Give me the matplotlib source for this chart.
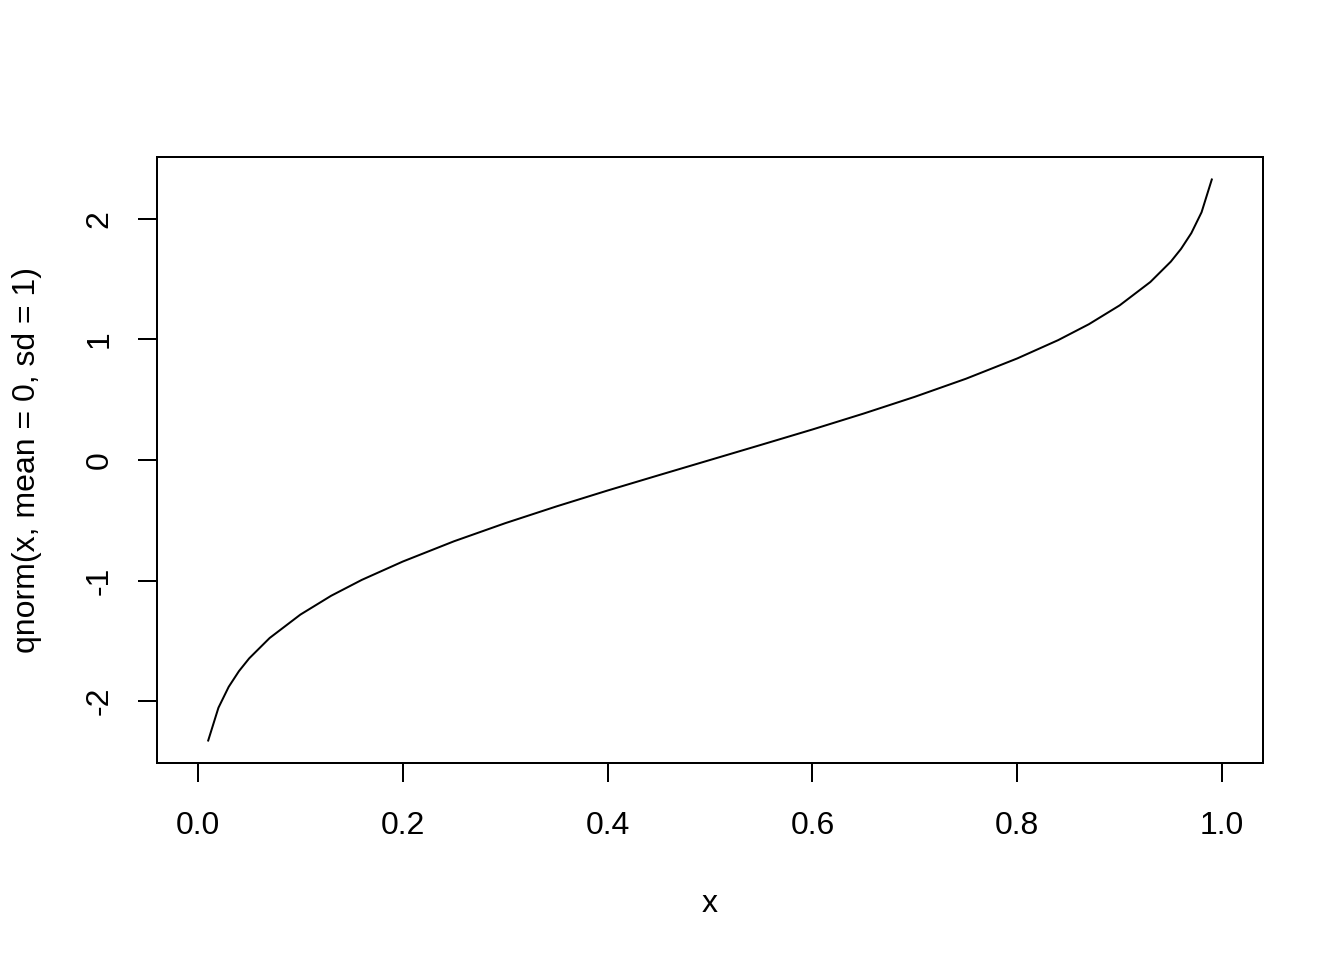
import matplotlib
matplotlib.use("Agg")
import matplotlib.pyplot as plt

x = [0.01, 0.02, 0.03, 0.04, 0.05, 0.07, 0.10, 0.13, 0.16, 0.20, 0.25, 0.30,
     0.35, 0.40, 0.45, 0.50, 0.55, 0.60, 0.65, 0.70, 0.75, 0.80, 0.84, 0.87,
     0.90, 0.93, 0.95, 0.96, 0.97, 0.98, 0.99]
y = [-2.326, -2.054, -1.881, -1.751, -1.645, -1.476, -1.282, -1.126, -0.994,
     -0.842, -0.674, -0.524, -0.385, -0.253, -0.126, 0.0, 0.126, 0.253, 0.385,
     0.524, 0.674, 0.842, 0.994, 1.126, 1.282, 1.476, 1.645, 1.751, 1.881,
     2.054, 2.326]
xticks = [0.0, 0.2, 0.4, 0.6, 0.8, 1.0]
yticks = [-2, -1, 0, 1, 2]

plt.rcParams['font.family'] = ['Liberation Sans', 'DejaVu Sans']
plt.rcParams['font.size'] = 12

fig = plt.figure(figsize=(7, 5), dpi=192)
ax = fig.add_axes([157/1344, 1 - 763/960, (1263-157)/1344, (763-157)/960])

ax.plot(x, y, color='black', lw=0.75)

ax.set_xlim(-0.04, 1.04)
ax.set_ylim(-2.5124, 2.5124)
ax.set_xticks(xticks)
ax.set_xticklabels([f'{v:.1f}' for v in xticks])
ax.set_yticks(yticks)
ax.set_yticklabels([str(v) for v in yticks], rotation=90, va='center')
ax.tick_params(length=7, width=0.75, pad=9)
ax.tick_params(axis='x', pad=11)

for s in ax.spines.values():
    s.set_linewidth(0.75)

ax.set_xlabel('x', labelpad=18)
ax.set_ylabel('qnorm(x, mean = 0, sd = 1)', labelpad=16)

fig.savefig('out.png', dpi=192)
